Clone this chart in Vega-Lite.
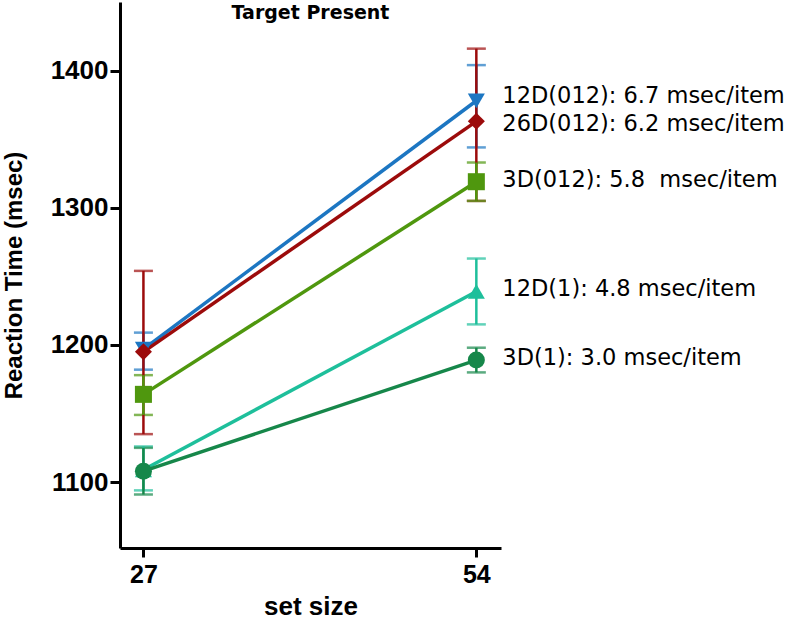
{
  "$schema": "https://vega.github.io/schema/vega-lite/v6.json",
  "autosize": {"type": "none"},
  "width": 381,
  "height": 546,
  "padding": {"left": 120, "top": 2, "right": 299, "bottom": 72},
  "background": "white",
  "title": {"text": "Target Present", "font": "DejaVu Sans", "fontSize": 19, "fontWeight": "bold", "color": "black", "anchor": "middle", "offset": -21, "baseline": "top"},
  "config": {"view": {"stroke": null}, "font": "Liberation Sans"},
  "data": {"values": [
    {"series": "12D(012)", "size": 27, "rt": 1197, "lo": 1182, "hi": 1209, "label": "12D(012): 6.7 msec/item"},
    {"series": "12D(012)", "size": 54, "rt": 1378, "lo": 1344, "hi": 1404, "label": "12D(012): 6.7 msec/item"},
    {"series": "26D(012)", "size": 27, "rt": 1195, "lo": 1135, "hi": 1254, "label": "26D(012): 6.2 msec/item"},
    {"series": "26D(012)", "size": 54, "rt": 1363, "lo": 1305, "hi": 1416, "label": "26D(012): 6.2 msec/item"},
    {"series": "3D(012)", "size": 27, "rt": 1164, "lo": 1149, "hi": 1178, "label": "3D(012): 5.8\u00a0 msec/item"},
    {"series": "3D(012)", "size": 54, "rt": 1319, "lo": 1305, "hi": 1333, "label": "3D(012): 5.8\u00a0 msec/item"},
    {"series": "12D(1)", "size": 27, "rt": 1109, "lo": 1094, "hi": 1126, "label": "12D(1): 4.8 msec/item"},
    {"series": "12D(1)", "size": 54, "rt": 1239, "lo": 1215, "hi": 1263, "label": "12D(1): 4.8 msec/item"},
    {"series": "3D(1)", "size": 27, "rt": 1108, "lo": 1091, "hi": 1125, "label": "3D(1): 3.0 msec/item"},
    {"series": "3D(1)", "size": 54, "rt": 1189, "lo": 1180, "hi": 1198, "label": "3D(1): 3.0 msec/item"}
  ]},
  "encoding": {
    "x": {"field": "size", "type": "quantitative",
      "scale": {"domain": [25.1, 56], "nice": false, "zero": false},
      "axis": {"values": [27, 54], "title": "set size", "grid": false, "domainColor": "black", "domainWidth": 3, "tickColor": "black", "tickWidth": 3, "tickSize": 9, "labelFontSize": 25, "labelFontWeight": "bold", "labelColor": "black", "labelPadding": 5, "titleFontSize": 26, "titleFontWeight": "bold", "titleColor": "black", "titlePadding": 6}},
    "color": {"field": "series", "type": "nominal", "legend": null,
      "scale": {"domain": ["3D(1)", "12D(1)", "3D(012)", "12D(012)", "26D(012)"], "range": ["#16874a", "#1ebf9b", "#4f970e", "#1c76c2", "#9c0b0b"]}}
  },
  "layer": [
    {
      "mark": {"type": "errorbar", "ticks": {"size": 19, "thickness": 2.5}, "thickness": 2.5},
      "encoding": {
        "y": {"field": "lo", "type": "quantitative", "title": "Reaction Time (msec)",
          "scale": {"domain": [1052, 1450], "nice": false, "zero": false},
          "axis": {"values": [1100, 1200, 1300, 1400], "format": "d", "grid": false, "domainColor": "black", "domainWidth": 3, "tickColor": "black", "tickWidth": 3, "tickSize": 10, "labelFontSize": 26, "labelFontWeight": "bold", "labelColor": "black", "labelPadding": 2, "titleFontSize": 24, "titleFontWeight": "bold", "titleColor": "black", "titlePadding": 24}},
        "y2": {"field": "hi"}
      }
    },
    {
      "mark": {"type": "line", "strokeWidth": 3.5},
      "encoding": {"y": {"field": "rt", "type": "quantitative"}}
    },
    {
      "mark": {"type": "point", "filled": true, "opacity": 1, "size": 290},
      "encoding": {
        "y": {"field": "rt", "type": "quantitative"},
        "shape": {"field": "series", "type": "nominal", "legend": null,
          "scale": {"domain": ["3D(1)", "12D(1)", "3D(012)", "12D(012)", "26D(012)"], "range": ["circle", "triangle-up", "square", "triangle-down", "diamond"]}}
      }
    },
    {
      "transform": [{"filter": "datum.size == 54 && datum.series != '12D(012)' && datum.series != '26D(012)'"}],
      "mark": {"type": "text", "align": "left", "baseline": "middle", "dx": 26, "dy": -2, "fontSize": 22.5, "color": "black", "font": "DejaVu Sans"},
      "encoding": {
        "y": {"field": "rt", "type": "quantitative"},
        "text": {"field": "label"},
        "color": {"value": "black"}
      }
    },
    {
      "transform": [{"filter": "datum.size == 54 && datum.series == '12D(012)'"}],
      "mark": {"type": "text", "align": "left", "baseline": "middle", "dx": 26, "dy": -5, "fontSize": 22.5, "color": "black", "font": "DejaVu Sans"},
      "encoding": {
        "y": {"field": "rt", "type": "quantitative"},
        "text": {"field": "label"},
        "color": {"value": "black"}
      }
    },
    {
      "transform": [{"filter": "datum.size == 54 && datum.series == '26D(012)'"}],
      "mark": {"type": "text", "align": "left", "baseline": "middle", "dx": 26, "dy": 3, "fontSize": 22.5, "color": "black", "font": "DejaVu Sans"},
      "encoding": {
        "y": {"field": "rt", "type": "quantitative"},
        "text": {"field": "label"},
        "color": {"value": "black"}
      }
    }
  ]
}
